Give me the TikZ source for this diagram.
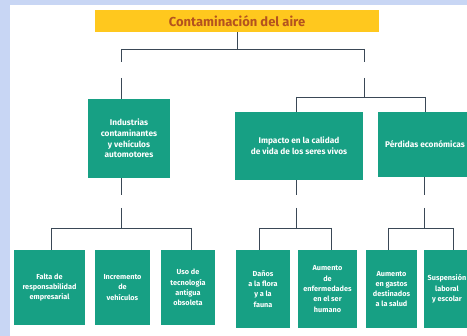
\documentclass[tikz,border=0pt]{standalone}
\usepackage{fontspec}
\setmainfont{Fira Sans}
\definecolor{bgblue}{HTML}{C8D6F4}
\definecolor{boxgreen}{HTML}{17A084}
\definecolor{titley}{HTML}{FFC81E}
\definecolor{titlet}{HTML}{B4521E}
\definecolor{linec}{HTML}{3A4856}
\begin{document}
\begin{tikzpicture}[x=1pt,y=-1pt,
  box/.style={fill=boxgreen, text=white, font=\fontsize{7.3}{10.3}\selectfont\bfseries, align=center, inner sep=0pt, anchor=center},
  bigbox/.style={box, font=\fontsize{8.3}{10.7}\selectfont\bfseries},
  conn/.style={draw=linec, line width=0.9pt}]
\useasboundingbox (0,0) rectangle (467,336);
\clip (0,0) rectangle (467,336);
\fill[bgblue] (0,0) rectangle (467,336);
\fill[white] (10,5) rectangle (467,336);
% title
\node[fill=titley, text=titlet, font=\fontsize{13}{15}\selectfont\bfseries, minimum width=284pt, minimum height=22pt, inner sep=0pt] (title) at (237,21) {Contaminación del aire};
% level 2
\node[bigbox, minimum width=82pt, minimum height=79pt] (b1) at (129,138.5) {Industrias\\contaminantes\\y vehículos\\automotores};
\node[bigbox, minimum width=128pt, minimum height=68pt] (b2) at (299,146) {Impacto en la calidad\\de vida de los seres vivos};
\node[bigbox, minimum width=94pt, minimum height=65pt] (b3) at (425,144.5) {Pérdidas económicas};
% level 3
\node[box, minimum width=71pt, minimum height=75pt] (c1) at (49.5,287.5) {Falta de\\responsabilidad\\empresarial};
\node[box, minimum width=55pt, minimum height=75pt] (c2) at (122.5,287.5) {Incremento\\de\\vehículos};
\node[box, minimum width=54pt, minimum height=75pt] (c3) at (188,287.5) {Uso de\\tecnología\\antigua\\obsoleta};
\node[box, minimum width=54pt, minimum height=78pt] (c4) at (263,289) {Daños\\a la flora\\y a la\\fauna};
\node[box, minimum width=59pt, minimum height=78pt] (c5) at (327.5,289) {Aumento\\de\\enfermedades\\en el ser\\humano};
\node[box, minimum width=51pt, minimum height=78pt] (c6) at (391.5,289) {Aumento\\en gastos\\destinados\\a la salud};
\node[box, minimum width=46pt, minimum height=78pt] (c7) at (447,289) {Suspensión\\laboral\\y escolar};
% coordinates
\coordinate (t1) at (121,49); \coordinate (t2) at (364,49);
\coordinate (g1a) at (121,62); \coordinate (g1b) at (121,78);
\coordinate (g2a) at (364,62); \coordinate (g2b) at (364,78);
\coordinate (r0) at (364,97); \coordinate (rl) at (296,97); \coordinate (rr) at (425,97);
\coordinate (la) at (121,195); \coordinate (lb) at (121,208); \coordinate (lc) at (121,228);
\coordinate (ll) at (51,228); \coordinate (lr) at (191,228);
\coordinate (ma) at (296,195); \coordinate (mb) at (296,208); \coordinate (mc) at (296,228);
\coordinate (ml) at (259,228); \coordinate (mr) at (331,228);
\coordinate (na) at (424,195); \coordinate (nb) at (424,208); \coordinate (nc) at (424,228);
\coordinate (nl) at (388,228); \coordinate (nr) at (453,228);
% connectors
\draw[conn] (title.south) -- (title.south |- t1);
\draw[conn] (t1) -- (t2);
\draw[conn] (t1) -- (g1a);
\draw[conn] (g1b) -- (b1.north -| g1b);
\draw[conn] (t2) -- (g2a);
\draw[conn] (g2b) -- (r0);
\draw[conn] (rl) -- (rr);
\draw[conn] (rl) -- (b2.north -| rl);
\draw[conn] (rr) -- (b3.north -| rr);
\draw[conn] (b1.south -| la) -- (la);
\draw[conn] (lb) -- (lc);
\draw[conn] (ll) -- (lr);
\draw[conn] (ll) -- (c1.north -| ll);
\draw[conn] (lr) -- (c3.north -| lr);
\draw[conn] (b2.south -| ma) -- (ma);
\draw[conn] (mb) -- (mc);
\draw[conn] (ml) -- (mr);
\draw[conn] (ml) -- (c4.north -| ml);
\draw[conn] (mr) -- (c5.north -| mr);
\draw[conn] (b3.south -| na) -- (na);
\draw[conn] (nb) -- (nc);
\draw[conn] (nl) -- (nr);
\draw[conn] (nl) -- (c6.north -| nl);
\draw[conn] (nr) -- (c7.north -| nr);
\end{tikzpicture}
\end{document}
